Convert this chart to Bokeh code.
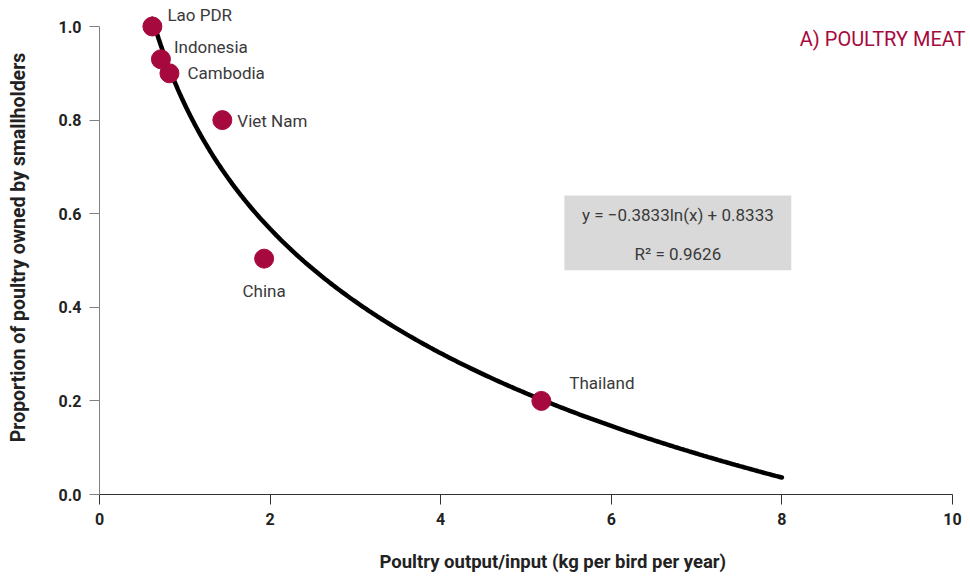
import numpy as np
from bokeh.plotting import figure
from bokeh.models import (ColumnDataSource, LabelSet, Label, BoxAnnotation, Range1d,
                          FixedTicker, NumeralTickFormatter, Title)
from bokeh.core.properties import value
from bokeh.embed import file_html
from bokeh.resources import INLINE

# ---- data ----
countries = ["Lao PDR", "Indonesia", "Cambodia", "Viet Nam", "China", "Thailand"]
output_input = [0.62, 0.72, 0.82, 1.44, 1.93, 5.18]
smallholder_share = [1.00, 0.93, 0.90, 0.80, 0.504, 0.20]

# trend line reported on the chart: y = a*ln(x) + b
trend_a = -0.3833
trend_b = 0.8333
trend_x_start = 0.62
trend_x_end = 8.0
equation_text = "y = \u22120.3833ln(x) + 0.8333"
r2_text = "R\u00b2 = 0.9626"
title_text = "A) POULTRY MEAT"
x_label = "Poultry output/input (kg per bird per year)"
y_label = "Proportion of poultry owned by smallholders"

x_ticks = [0, 2, 4, 6, 8, 10]
y_ticks = [0.0, 0.2, 0.4, 0.6, 0.8, 1.0]

# ---- styling ----
FONT = "Roboto"
RED = "#a6093d"
TXT = "#3a3a3a"

W, H = 970, 578
LEFT, RIGHT_X10, TOP_Y1, BOTTOM = 99, 952, 26, 494
px_per_x = (RIGHT_X10 - LEFT) / 10.0
px_per_y = (BOTTOM - TOP_Y1) / 1.0

p = figure(width=W, height=H, output_backend="svg", toolbar_location=None,
           x_range=Range1d(0, (W - LEFT) / px_per_x),
           y_range=Range1d(0, BOTTOM / px_per_y),
           min_border_left=LEFT, min_border_right=0, min_border_top=0,
           min_border_bottom=H - BOTTOM)
p.outline_line_color = None
p.grid.visible = False
p.background_fill_color = "white"
p.border_fill_color = "white"

# axes
for ax in (p.xaxis[0], p.yaxis[0]):
    ax.major_tick_out = 10
    ax.major_tick_in = 0
    ax.minor_tick_out = 0
    ax.minor_tick_in = 0
    ax.major_label_text_font = FONT
    ax.major_label_text_font_style = "bold"
    ax.major_label_text_font_size = "16px"
    ax.major_label_text_color = "#222222"
    ax.axis_label_text_font = FONT
    ax.axis_label_text_font_style = "bold"
    ax.axis_label_text_color = "#222222"
    ax.major_label_standoff = 8

p.xaxis.ticker = FixedTicker(ticks=x_ticks)
p.xaxis.bounds = (0, 10)
p.xaxis.axis_line_color = "#333333"
p.xaxis.major_tick_line_color = "#333333"
# blank axis label only reserves vertical space; the visible label is a Title below
p.xaxis.axis_label = " "
p.xaxis.axis_label_text_font_size = "11px"
p.xaxis.axis_label_standoff = 0

# x-axis title placed below the axis, positioned as in the reference
p.add_layout(Title(text=x_label, align="left", offset=280, standoff=10,
                   text_font=FONT, text_font_style="bold", text_font_size="18.5px",
                   text_color="#222222"), "below")

p.yaxis.ticker = FixedTicker(ticks=y_ticks)
p.yaxis.formatter = NumeralTickFormatter(format="0.0")
p.yaxis.bounds = (0, 1)
p.yaxis.axis_line_color = "#808080"
p.yaxis.major_tick_line_color = "#808080"
p.yaxis.axis_label = y_label
p.yaxis.axis_label_text_font_size = "19.5px"
p.yaxis.axis_label_standoff = 26

# equation box
box = BoxAnnotation(left=5.45, right=8.11, bottom=0.479, top=0.639,
                    fill_color="#d9d9d9", fill_alpha=1.0, line_color=None, level="underlay")
p.add_layout(box)
p.add_layout(Label(x=6.78, y=0.598, text=equation_text, text_align="center",
                   text_baseline="middle", text_font=FONT, text_font_size="17px",
                   text_color=TXT))
p.add_layout(Label(x=6.78, y=0.513, text=r2_text, text_align="center",
                   text_baseline="middle", text_font=FONT, text_font_size="17px",
                   text_color=TXT))

# trend curve
tx = np.linspace(trend_x_start, trend_x_end, 300)
ty = trend_a * np.log(tx) + trend_b
p.line(tx, ty, line_color="black", line_width=4.5, line_cap="round")

# points
src = ColumnDataSource(dict(
    x=output_input, y=smallholder_share, name=countries,
    xo=[15, 13, 18, 15, 0, 28],
    yo=[12, 12, 0, -1, -32, 18],
    align=["left", "left", "left", "left", "center", "left"],
))
p.scatter("x", "y", source=src, size=19, fill_color=RED, line_color=RED)
p.add_layout(LabelSet(x="x", y="y", text="name", source=src, x_offset="xo", y_offset="yo",
                      text_align="align", text_baseline="middle", text_font=value(FONT),
                      text_font_size="17px", text_color=TXT))

# panel title
p.add_layout(Label(x=(965 - LEFT) / px_per_x, y=(BOTTOM - 38) / px_per_y, text=title_text,
                   text_align="right", text_baseline="middle", text_font=FONT,
                   text_font_size="20px", text_color=RED))

open("out.html", "w").write(file_html(p, INLINE))
